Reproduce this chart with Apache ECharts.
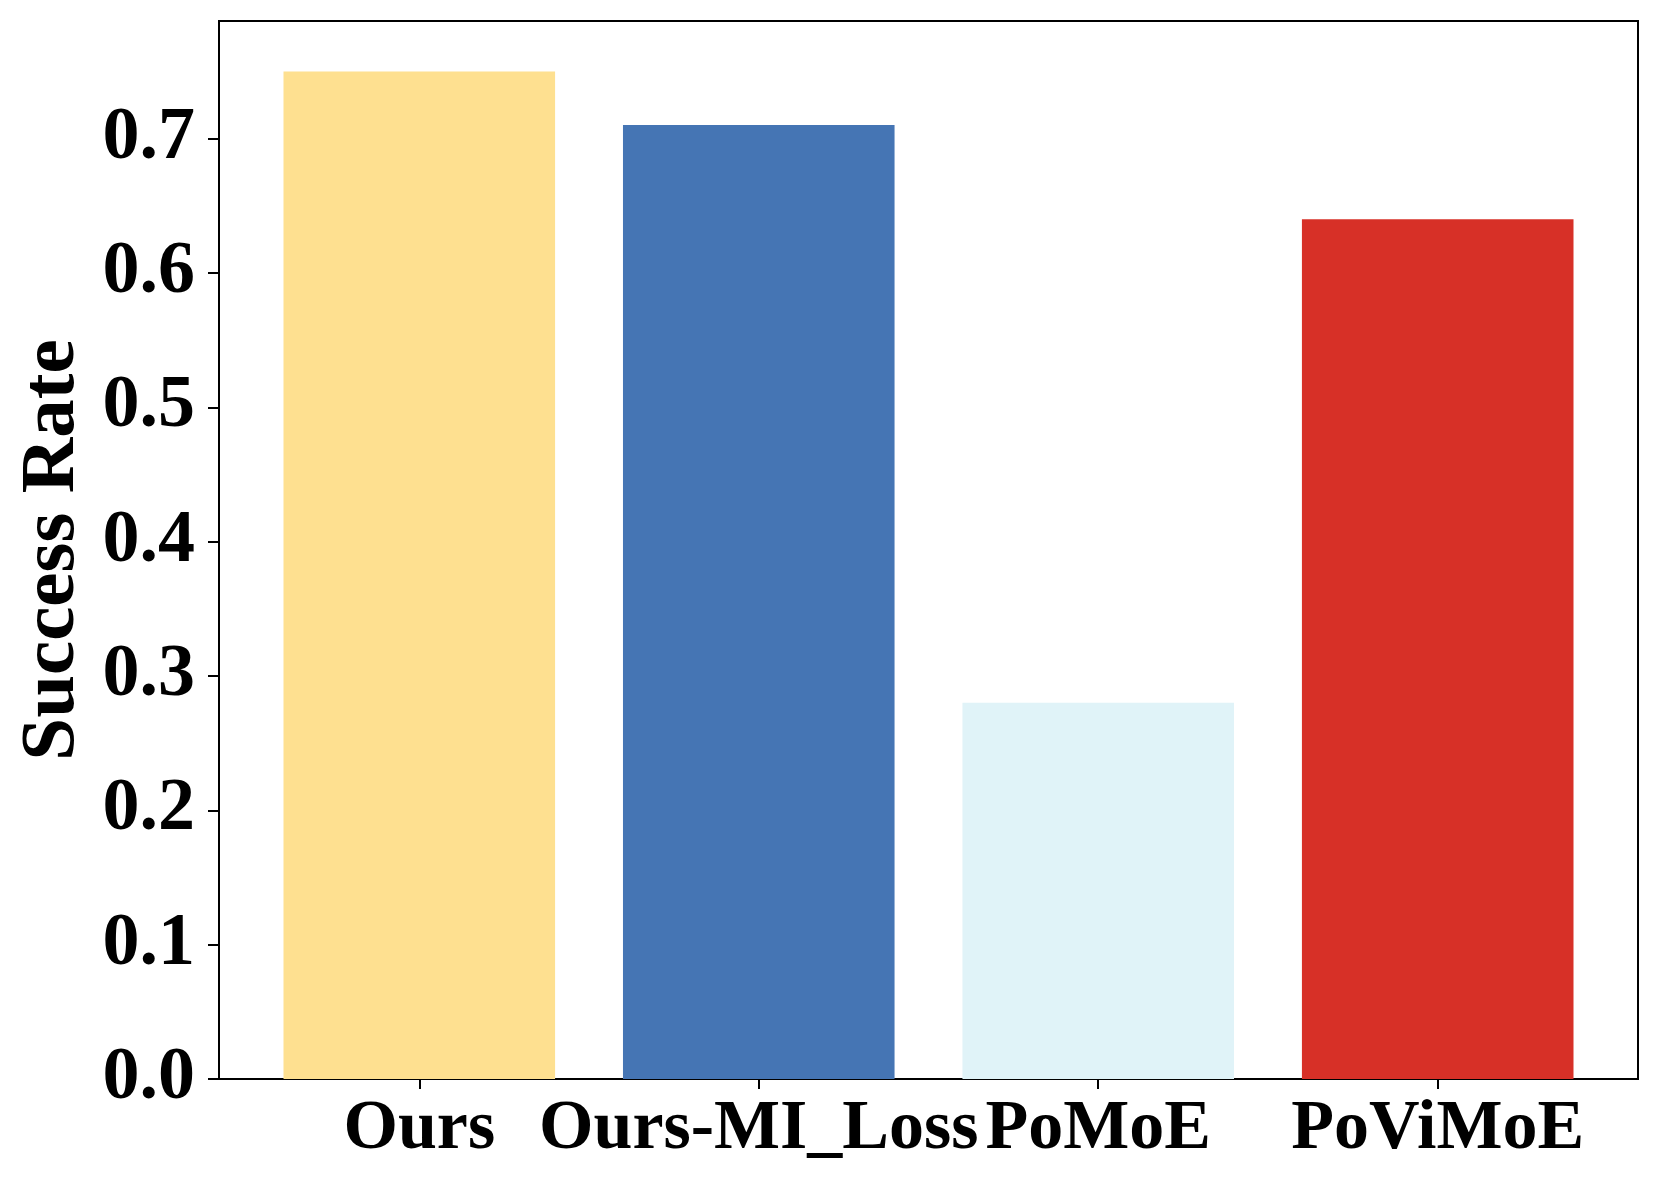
<!DOCTYPE html>
<html>
<head>
<meta charset="utf-8">
<script src="https://cdn.jsdelivr.net/npm/echarts@6/dist/echarts.min.js"></script>
<style>
  html, body { margin: 0; padding: 0; background: #fff; }
  #chart { width: 1660px; height: 1187px; }
</style>
</head>
<body>
<div id="chart"></div>
<script>
// data
const categories = ['Ours', 'Ours-MI_Loss', 'PoMoE', 'PoViMoE'];
const successRate = [0.75, 0.71, 0.28, 0.64];
const barColors = ['#fee090', '#4575b4', '#e0f3f8', '#d73027'];
const yTicks = [0.0, 0.1, 0.2, 0.3, 0.4, 0.5, 0.6, 0.7];
const xTicks = [0, 1, 2, 3];

const font = '"Liberation Serif", "Times New Roman", serif';
const gridLeft = 219, gridRight = 22, gridTop = 21, gridBottom = 108;
const plotW = 1660 - gridLeft - gridRight;
// matplotlib style x-limits: bars of width 0.8 plus 5% margins
const xMin = -0.59, xMax = 3.59;

const chart = echarts.init(document.getElementById('chart'));

chart.setOption({
  animation: false,
  grid: {
    left: gridLeft, right: gridRight, top: gridTop, bottom: gridBottom,
    containLabel: false,
    outerBoundsMode: 'none',
    show: true, borderColor: '#000', borderWidth: 2, backgroundColor: 'transparent'
  },
  xAxis: {
    type: 'value',
    min: xMin,
    max: xMax,
    splitLine: { show: false },
    axisLine: { show: true, onZero: false, lineStyle: { color: '#000', width: 2 } },
    axisTick: { show: true, customValues: xTicks, length: 10, lineStyle: { color: '#000', width: 2 } },
    axisLabel: {
      customValues: xTicks,
      margin: 16,
      formatter: (v) => categories[Math.round(v)],
      color: '#000',
      fontFamily: font,
      fontWeight: 'bold',
      fontSize: 70
    }
  },
  yAxis: {
    type: 'value',
    min: 0,
    max: 0.7875,
    name: 'Success Rate',
    nameLocation: 'middle',
    nameGap: 127,
    nameTextStyle: { color: '#000', fontFamily: font, fontWeight: 'bold', fontSize: 77 },
    splitLine: { show: false },
    axisLine: { show: true, onZero: false, lineStyle: { color: '#000', width: 2 } },
    axisTick: { show: true, customValues: yTicks, length: 11, lineStyle: { color: '#000', width: 2 } },
    axisLabel: {
      customValues: yTicks,
      margin: 24,
      padding: [8, 0, 0, 0],
      formatter: (v) => v.toFixed(1),
      color: '#000',
      fontFamily: font,
      fontWeight: 'bold',
      fontSize: 74
    }
  },
  series: [{
    type: 'bar',
    barWidth: 0.8 * plotW / (xMax - xMin),
    data: successRate.map((v, i) => ({ value: [i, v], itemStyle: { color: barColors[i] } }))
  }]
});
</script>
</body>
</html>
